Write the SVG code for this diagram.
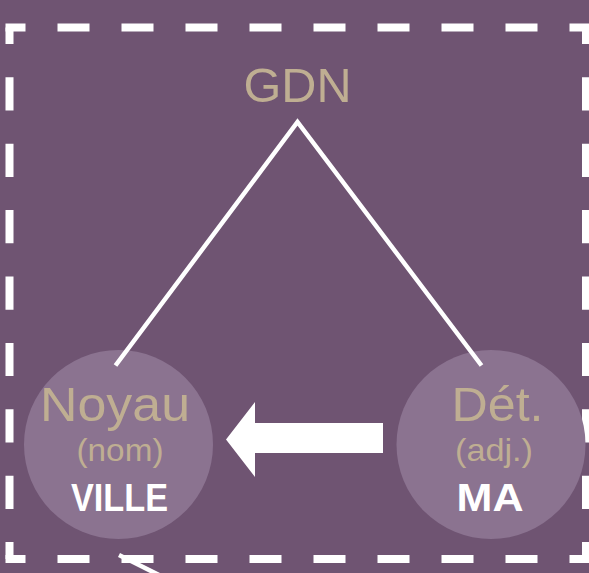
<svg xmlns="http://www.w3.org/2000/svg" width="589" height="573" viewBox="0 0 589 573">
  <style>
    .bg { fill: #6f5472; }
    .frame { stroke: #ffffff; stroke-width: 8; fill: none; stroke-linecap: butt; }
    .fh { stroke-dasharray: 32 32; stroke-dashoffset: 12; }
    .fv { stroke-dasharray: 33.2 33.2; stroke-dashoffset: 16.6; }
    .edge { stroke: #ffffff; stroke-width: 4.5; fill: none; }
    .node circle { fill: #8b7390; }
    .lbl { font-family: "Liberation Sans", Arial, sans-serif; fill: #bfae92; text-anchor: middle; }
    .big { font-size: 48px; }
    .small { font-size: 32px; }
    .word { font-family: "Liberation Sans", Arial, sans-serif; font-weight: bold; fill: #ffffff; text-anchor: middle; font-size: 39px; }
  </style>
  <rect class="bg" x="0" y="0" width="589" height="573"/>
  <g id="frame">
    <line class="frame fh" x1="5.5" y1="27.5" x2="590" y2="27.5"/>
    <line class="frame fh" x1="5.5" y1="559" x2="590" y2="559"/>
    <line class="frame fv" x1="9.5" y1="27.5" x2="9.5" y2="559"/>
    <line class="frame fv" x1="586" y1="27.5" x2="586" y2="559"/>
  </g>
  <g id="gdn">
    <text class="lbl big" x="297.5" y="101.5" textLength="108" lengthAdjust="spacingAndGlyphs">GDN</text>
  </g>
  <g id="noyau" class="node">
    <circle cx="118.5" cy="444.5" r="94.5"/>
    <text class="lbl big" x="115" y="421" textLength="150" lengthAdjust="spacingAndGlyphs">Noyau</text>
    <text class="lbl small" x="120" y="460.5" textLength="87" lengthAdjust="spacingAndGlyphs">(nom)</text>
    <text class="word" x="119.5" y="510.5" textLength="97" lengthAdjust="spacingAndGlyphs">VILLE</text>
  </g>
  <g id="det" class="node">
    <circle cx="491" cy="444.5" r="94.5"/>
    <text class="lbl big" x="497.5" y="421" textLength="92" lengthAdjust="spacingAndGlyphs">Dét.</text>
    <text class="lbl small" x="494" y="460.5" textLength="78" lengthAdjust="spacingAndGlyphs">(adj.)</text>
    <text class="word" x="490" y="511" textLength="67" lengthAdjust="spacingAndGlyphs">MA</text>
  </g>
  <g id="connectors">
    <polyline class="edge" points="115.5,365.5 297.5,122 481.5,365.5" stroke-linejoin="miter"/>
    <polygon fill="#ffffff" points="226,439.5 255,402 255,423 383,423 383,453 255,453 255,477"/>
    <line class="edge" x1="119" y1="555" x2="165" y2="578" stroke-width="5"/>
  </g>
</svg>
